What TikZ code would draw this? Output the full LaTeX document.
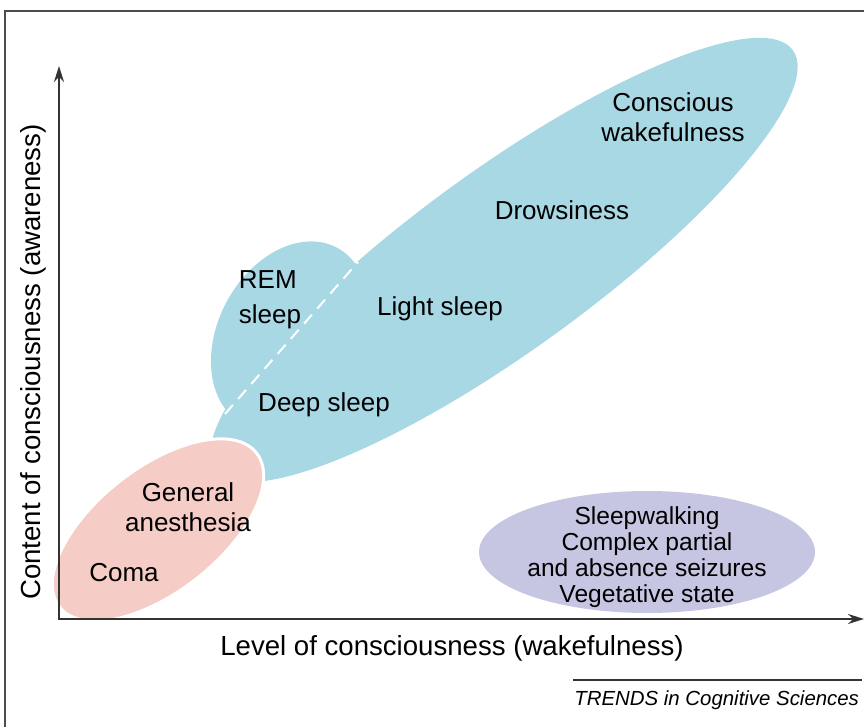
\documentclass[tikz,border=0pt]{standalone}
\usepackage{fontspec}
\setmainfont{Liberation Sans}
\usetikzlibrary{arrows.meta}
\definecolor{wakeblue}{HTML}{A9D8E5}
\definecolor{comapink}{HTML}{F5CCC6}
\definecolor{seizurelilac}{HTML}{C6C6E3}

\begin{document}
\begin{tikzpicture}[x=0.5pt, y=-0.5pt,
                    line width=1pt,
                    font=\fontsize{13}{15}\selectfont]
    \tikzstyle{state}=[inner sep=0pt, align=center]
    \tikzstyle{axislabel}=[state, font=\fontsize{13.8}{16}\selectfont]
    \tikzstyle{axis}=[draw=black!80, line width=1.1pt, {Stealth[length=8pt,width=5pt]}-{Stealth[length=8pt,width=5pt]}]

    \useasboundingbox (0,0) rectangle (864,727);
    % frame
    \draw[black!70, line width=0.8pt] (5,727) -- (5,11) -- (864,11);

    % sleep and wake
    \fill[wakeblue, rotate around={-28:(290,336)}] (290,336) ellipse [x radius=72, y radius=100];
    \fill[wakeblue, rotate around={36:(504,260)}] (504,260) ellipse [x radius=357, y radius=90];
    \coordinate (remtop) at (358,262);
    \coordinate (rembot) at (225,414);
    \draw[white, line width=1pt, dash pattern=on 6pt off 4pt] (rembot) -- (remtop);

    % coma and anesthesia
    \filldraw[fill=comapink, draw=white, line width=1.5pt, rotate around={38:(158,530)}] (158,530) ellipse [x radius=125, y radius=62];

    % dissociated states
    \fill[seizurelilac] (647,552) ellipse [x radius=168, y radius=61];

    \node[state] (awake) at (673,117) {Conscious\\wakefulness};
    \node[state] (drowsy) at (562,210) {Drowsiness};
    \node[state] (light) at (440,309) {Light sleep};
    \node[state, align=left, font=\fontsize{13}{17.5}\selectfont] (rem) at (270,300) {REM\\sleep};
    \node[state] (deep) at (324,405) {Deep sleep};
    \node[state] (anesth) at (188,507) {General\\anesthesia};
    \node[state] (coma) at (124,573) {Coma};
    \node[state, font=\fontsize{12.3}{13}\selectfont] (seizure) at (647,557)
        {Sleepwalking\\Complex partial\\and absence seizures\\Vegetative state};

    % axes
    \coordinate (origin) at (59,619);
    \coordinate (ytip) at (59,66);
    \coordinate (xtip) at (864,619);
    \draw[axis] (ytip) -- (origin) -- (xtip);
    \node[axislabel, rotate=90] (ylabel) at (33,362) {Content of consciousness (awareness)};
    \node[axislabel] (xlabel) at (452,648) {Level of consciousness (wakefulness)};

    \node[inner sep=0pt, anchor=north east, font=\itshape\fontsize{10.2}{12}\selectfont] (trends) at (860,690) {TRENDS in Cognitive Sciences};
    \draw[black!80, line width=0.7pt] ([yshift=5pt]trends.north west) -- ([yshift=5pt,xshift=1pt]trends.north east);
\end{tikzpicture}
\end{document}
